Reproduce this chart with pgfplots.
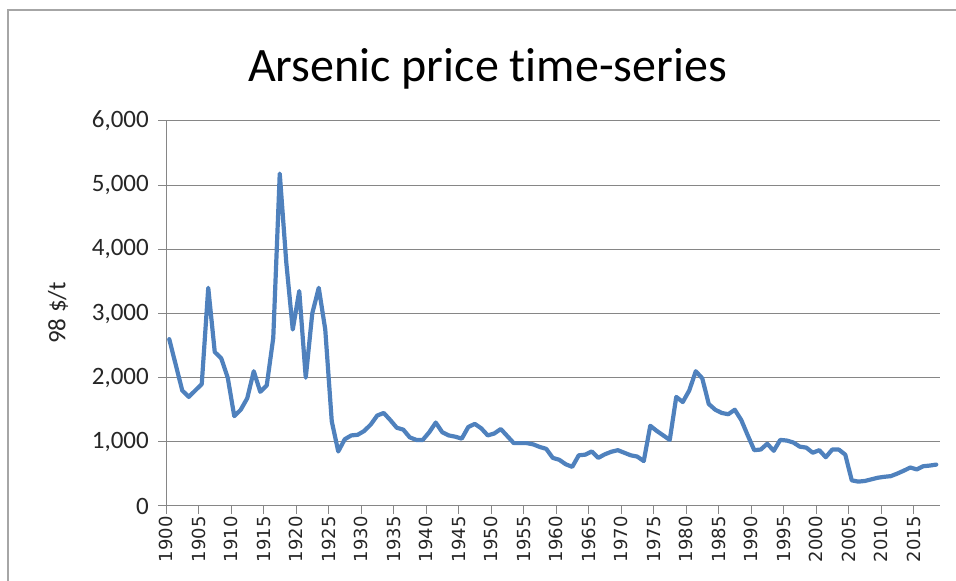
\documentclass[border=0pt]{standalone}
\usepackage{pgfplots}
\pgfplotsset{compat=1.18}
\usepackage{fontspec}
\setmainfont[Ligatures=NoCommon]{Carlito}
\newfontfamily\dejavu{DejaVu Sans}

\definecolor{xlblue}{HTML}{4F81BD}
\definecolor{gridgray}{HTML}{868686}
\definecolor{txt}{HTML}{262626}

\begin{document}
\begin{tikzpicture}[x=1bp,y=1bp]
  \path[use as bounding box] (0,0) rectangle (956,581);
  % chart frame (left and top edges visible)
  \draw[gray!70, line width=1.5bp] (8,0) -- (8,571) -- (956,571);

  \begin{axis}[
      at={(166bp,75bp)}, anchor=south west,
      scale only axis,
      width=773.5bp, height=385bp,
      xmin=1899.5, xmax=2018.5,
      ymin=0, ymax=6000,
      axis x line*=bottom, axis y line*=left,
      axis line style={-, draw=gridgray, line width=1bp},
      xtick={1899.5,1904.5,...,2014.5},
      xticklabels={1900,1905,1910,1915,1920,1925,1930,1935,1940,1945,1950,1955,1960,1965,1970,1975,1980,1985,1990,1995,2000,2005,2010,2015},
      ytick={0,1000,...,6000},
      tick align=outside,
      major tick length=8bp,
      tick style={draw=gridgray, line width=1bp},
      ymajorgrids=true,
      grid style={draw=gridgray, line width=1bp},
      xticklabel style={rotate=90, anchor=east, font=\dejavu\fontsize{18bp}{20bp}\selectfont, text=txt, inner sep=2bp},
      yticklabel style={font=\fontsize{25bp}{28bp}\selectfont, text=txt, inner sep=2bp, xshift=-7bp},
      /pgf/number format/.cd, 1000 sep={,}, assume math mode=true,
    ]
    \addplot[xlblue, line width=4.2bp, line join=round, line cap=round, mark=none] coordinates {
      (1900,2600) (1901,2200) (1902,1800) (1903,1700) (1904,1800)
      (1905,1900) (1906,3400) (1907,2400) (1908,2300) (1909,2000)
      (1910,1400) (1911,1500) (1912,1680) (1913,2100) (1914,1780)
      (1915,1880) (1916,2620) (1917,5180) (1918,3800) (1919,2750)
      (1920,3350) (1921,2000) (1922,3000) (1923,3400) (1924,2750)
      (1925,1320) (1926,850) (1927,1040) (1928,1100) (1929,1110)
      (1930,1170) (1931,1270) (1932,1410) (1933,1450) (1934,1340)
      (1935,1220) (1936,1190) (1937,1070) (1938,1030) (1939,1030)
      (1940,1150) (1941,1300) (1942,1150) (1943,1100) (1944,1080)
      (1945,1050) (1946,1230) (1947,1280) (1948,1210) (1949,1100)
      (1950,1130) (1951,1200) (1952,1090) (1953,980) (1954,980)
      (1955,980) (1956,960) (1957,920) (1958,890) (1959,750)
      (1960,720) (1961,650) (1962,610) (1963,790) (1964,800)
      (1965,850) (1966,750) (1967,805) (1968,845) (1969,870)
      (1970,830) (1971,790) (1972,770) (1973,700) (1974,1250)
      (1975,1170) (1976,1100) (1977,1030) (1978,1700) (1979,1620)
      (1980,1800) (1981,2100) (1982,1990) (1983,1590) (1984,1500)
      (1985,1450) (1986,1430) (1987,1500) (1988,1340) (1989,1100)
      (1990,870) (1991,880) (1992,970) (1993,860) (1994,1030)
      (1995,1020) (1996,990) (1997,925) (1998,910) (1999,830)
      (2000,870) (2001,760) (2002,880) (2003,880) (2004,800)
      (2005,400) (2006,380) (2007,390) (2008,415) (2009,440)
      (2010,455) (2011,465) (2012,505) (2013,550) (2014,600)
      (2015,570) (2016,620) (2017,630) (2018,645)
    };
  \end{axis}

  \node[anchor=base, font=\fontsize{48bp}{56bp}\selectfont] at (487.5,499) {Arsenic price time-series};
  \node[rotate=90, font=\fontsize{25bp}{28bp}\selectfont, text=txt] at (58,268) {98 \$/t};
\end{tikzpicture}
\end{document}
